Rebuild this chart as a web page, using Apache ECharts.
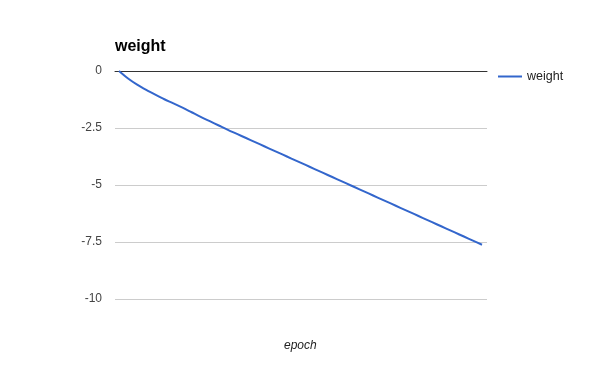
<!DOCTYPE html>
<html><head><meta charset="utf-8">
<script src="https://cdn.jsdelivr.net/npm/echarts@6/dist/echarts.min.js"></script>
<style>html,body{margin:0;padding:0;background:#fff}#c{width:600px;height:371px}</style>
</head><body><div id="c"></div>
<script>
var epochs = [0,1,2,3,4,5,6,7,8,9,10,11,12,13,14,15,16,17,18,19,20,21,22,23,24,25,26,27,28,29,30,31,32,33,34,35,36,37,38,39,40];
var weight = [0,-0.33,-0.60,-0.83,-1.04,-1.24,-1.42,-1.61,-1.81,-2.01,-2.20,-2.39,-2.58,-2.76,-2.94,-3.12,-3.30,-3.48,-3.66,-3.84,-4.02,-4.20,-4.38,-4.56,-4.74,-4.92,-5.10,-5.28,-5.46,-5.64,-5.82,-6.00,-6.18,-6.36,-6.54,-6.72,-6.90,-7.08,-7.26,-7.44,-7.62];
var yTicks = [0,-2.5,-5,-7.5,-10];
var chart = echarts.init(document.getElementById('c'), null, {renderer:'canvas'});
var font = 'Arial, "Liberation Sans", sans-serif';
chart.setOption({
  animation:false,
  title:[
    {text:'weight', left:110, top:34, textStyle:{fontFamily:font, fontSize:16, fontWeight:'bold', color:'#000'}},
    {text:'epoch', left:279, top:335, textStyle:{fontFamily:font, fontSize:12, fontStyle:'italic', fontWeight:'normal', color:'#222'}}
  ],
  legend:{left:493, top:65, itemWidth:24, itemHeight:14, itemGap:5,
    icon:'path://M0,6 L24,6 L24,8 L0,8 Z',
    textStyle:{fontFamily:font, fontSize:12.5, color:'#222', padding:[0,0,0,0]},
    data:['weight']},
  grid:{left:115, right:113, top:71, bottom:72, containLabel:false},
  xAxis:{type:'value', min:-0.44, max:40.55,
    axisLine:{show:true, onZero:true, lineStyle:{color:'#333', width:1}},
    axisTick:{show:false}, axisLabel:{show:false}, splitLine:{show:false}},
  yAxis:{type:'value', min:-10, max:0, interval:2.5,
    axisLine:{show:false}, axisTick:{show:false},
    axisLabel:{fontFamily:font, fontSize:12, color:'#444', margin:13,
      formatter:function(v){return yTicks.indexOf(v)>=0 ? String(v) : '';}},
    splitLine:{lineStyle:{color:'#ccc', width:1}}},
  series:[{name:'weight', type:'line', showSymbol:false, smooth:0.3,
    lineStyle:{color:'#3366cc', width:2}, itemStyle:{color:'#3366cc'},
    data:epochs.map(function(e,i){return [e, weight[i]];})}]
});
</script></body></html>
